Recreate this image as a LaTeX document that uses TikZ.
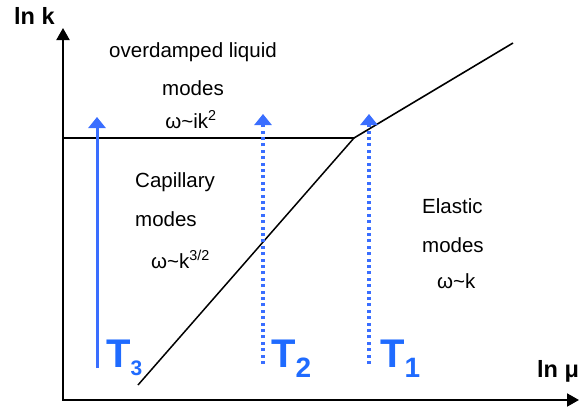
\documentclass[tikz,border=0pt]{standalone}
\usepackage{fontspec}
\setmainfont{Liberation Sans}
\usetikzlibrary{arrows.meta}
\definecolor{tblue}{HTML}{3A6EFF}
\definecolor{tlabelcol}{HTML}{1F6BFF}

\begin{document}
\begin{tikzpicture}[x=1pt,y=-1pt,
    txt/.style={font=\fontsize{20.5}{24}\selectfont, inner sep=0pt},
    axlabel/.style={font=\fontsize{23.5}{26}\selectfont\bfseries, inner sep=0pt, anchor=base west},
    tlabel/.style={font=\fontsize{40}{44}\selectfont\bfseries, text=tlabelcol, inner sep=0pt, anchor=base west},
    tarrow/.style={draw=tblue, line width=3pt, -{Triangle[width=17pt,length=11pt]}},
    tdots/.style={tarrow, line width=3.6pt, dash pattern=on 3pt off 3.4pt}]
    \useasboundingbox (0,0) rectangle (579,407);

    % Axes
    \coordinate (ytop) at (63,28);
    \coordinate (origin) at (63,400);
    \coordinate (xend) at (579,400);
    \draw[line width=2pt, {Triangle[width=13pt,length=12pt]}-{Triangle[width=13pt,length=12pt]}] (ytop) -- (origin) -- (xend);
    \node[axlabel] (lnk) at (14,24) {ln k};
    \node[axlabel] (lnmu) at (537,377) {ln μ};

    % Phase boundaries
    \coordinate (lstart) at (63,138);
    \coordinate (kink) at (354,138);
    \coordinate (cstart) at (138,385);
    \coordinate (eend) at (513,43);
    \draw[line width=1.6pt] (lstart) -- (kink) -- (eend);
    \draw[line width=1.5pt] (cstart) -- (kink);

    % Temperature paths
    \coordinate (t3a) at (97,368);
    \coordinate (t3b) at (97,117);
    \draw[tarrow] (t3a) -- (t3b);
    \foreach \name/\x in {t2/263, t1/369}{
        \coordinate (\name a) at (\x,364);
        \coordinate (\name b) at (\x,114);
        \draw[tdots] (\name a) -- (\name b);
    }
    \node[tlabel] (t3) at (106,367) {T\raisebox{-8pt}{\fontsize{21}{24}\selectfont 3}};
    \node[tlabel] (t2) at (271,367) {T\raisebox{-10pt}{\fontsize{28}{30}\selectfont 2}};
    \node[tlabel] (t1) at (380,367) {T\raisebox{-10pt}{\fontsize{28}{30}\selectfont 1}};

    % Regions
    \node[txt, anchor=base] (liq) at (193,57) {overdamped liquid};
    \node[txt, anchor=base] (liqm) at (193,95) {modes};
    \node[txt, anchor=base] (liqw) at (191,128) {ω\textasciitilde ik\textsuperscript{2}};
    \node[txt, anchor=base west] (cap) at (135,187) {Capillary};
    \node[txt, anchor=base west] (capm) at (135,226) {modes};
    \node[txt, anchor=base west] (capw) at (151,268) {ω\textasciitilde k\textsuperscript{3/2}};
    \node[txt, anchor=base west] (ela) at (422,213) {Elastic};
    \node[txt, anchor=base west] (elam) at (422,252) {modes};
    \node[txt, anchor=base west] (elaw) at (437,288) {ω\textasciitilde k};
\end{tikzpicture}
\end{document}
